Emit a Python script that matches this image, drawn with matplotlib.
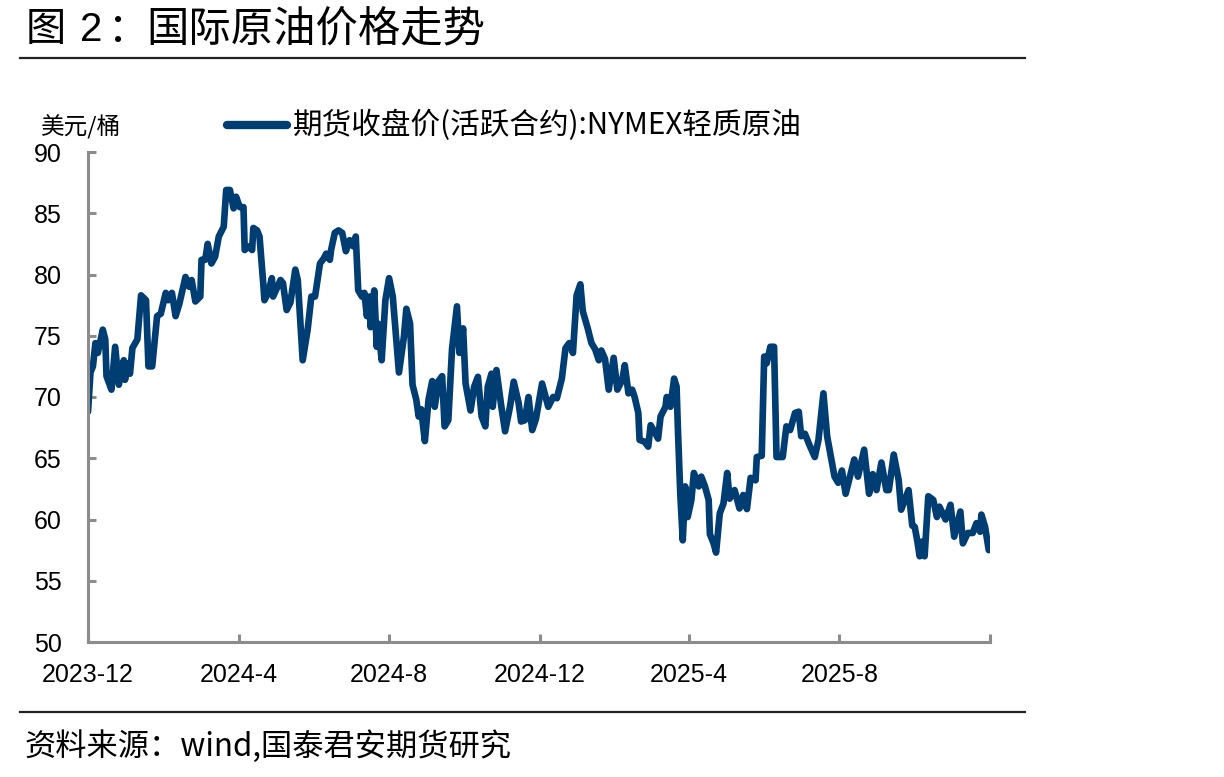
import matplotlib
matplotlib.use("Agg")
import matplotlib.pyplot as plt
import pandas as pd

plt.rcParams['font.family'] = ['Noto Sans CJK SC', 'DejaVu Sans']

title_prefix = "图 2："
title_main = "国际原油价格走势"
source = "资料来源：wind,国泰君安期货研究"
unit = "美元/桶"
series_name = "期货收盘价(活跃合约):NYMEX轻质原油"

dates = [
    "2023-12-01", "2023-12-03", "2023-12-05", "2023-12-07", "2023-12-09", "2023-12-13", "2023-12-15", "2023-12-16",
    "2023-12-20", "2023-12-23", "2023-12-26", "2023-12-30", "2023-12-31", "2024-01-02", "2024-01-04", "2024-01-06",
    "2024-01-10", "2024-01-13", "2024-01-17", "2024-01-19", "2024-01-22", "2024-01-26", "2024-01-29", "2024-02-02",
    "2024-02-04", "2024-02-07", "2024-02-10", "2024-02-13", "2024-02-18", "2024-02-21", "2024-02-23", "2024-02-26",
    "2024-03-01", "2024-03-02", "2024-03-05", "2024-03-07", "2024-03-10", "2024-03-13", "2024-03-16", "2024-03-20",
    "2024-03-22", "2024-03-25", "2024-03-28", "2024-03-30", "2024-04-02", "2024-04-05", "2024-04-06", "2024-04-09",
    "2024-04-12", "2024-04-13", "2024-04-16", "2024-04-18", "2024-04-21", "2024-04-22", "2024-04-25", "2024-04-28",
    "2024-04-29", "2024-05-05", "2024-05-07", "2024-05-10", "2024-05-13", "2024-05-17", "2024-05-19", "2024-05-23",
    "2024-05-27", "2024-05-30", "2024-06-02", "2024-06-06", "2024-06-09", "2024-06-11", "2024-06-14", "2024-06-15",
    "2024-06-18", "2024-06-21", "2024-06-24", "2024-06-27", "2024-06-30", "2024-07-03", "2024-07-05", "2024-07-07",
    "2024-07-10", "2024-07-12", "2024-07-14", "2024-07-16", "2024-07-17", "2024-07-20", "2024-07-22", "2024-07-23",
    "2024-07-26", "2024-07-29", "2024-08-01", "2024-08-04", "2024-08-06", "2024-08-09", "2024-08-13", "2024-08-15",
    "2024-08-18", "2024-08-20", "2024-08-23", "2024-08-25", "2024-08-27", "2024-08-30", "2024-09-02", "2024-09-05",
    "2024-09-07", "2024-09-10", "2024-09-13", "2024-09-15", "2024-09-18", "2024-09-21", "2024-09-25", "2024-09-27",
    "2024-09-30", "2024-10-02", "2024-10-06", "2024-10-09", "2024-10-12", "2024-10-15", "2024-10-18", "2024-10-20",
    "2024-10-23", "2024-10-24", "2024-10-27", "2024-10-31", "2024-11-03", "2024-11-07", "2024-11-10", "2024-11-14",
    "2024-11-16", "2024-11-19", "2024-11-22", "2024-11-25", "2024-11-28", "2024-12-03", "2024-12-08", "2024-12-12",
    "2024-12-15", "2024-12-19", "2024-12-22", "2024-12-25", "2024-12-28", "2024-12-31", "2025-01-03", "2025-01-05",
    "2025-01-09", "2025-01-12", "2025-01-15", "2025-01-18", "2025-01-20", "2025-01-23", "2025-01-26", "2025-01-30",
    "2025-02-02", "2025-02-06", "2025-02-08", "2025-02-11", "2025-02-14", "2025-02-16", "2025-02-19", "2025-02-20",
    "2025-02-24", "2025-02-27", "2025-03-01", "2025-03-05", "2025-03-07", "2025-03-09", "2025-03-13", "2025-03-14",
    "2025-03-17", "2025-03-20", "2025-03-22", "2025-03-23", "2025-03-25", "2025-03-27", "2025-03-29", "2025-03-31",
    "2025-04-03", "2025-04-05", "2025-04-09", "2025-04-11", "2025-04-14", "2025-04-17", "2025-04-18", "2025-04-21",
    "2025-04-23", "2025-04-26", "2025-04-29", "2025-05-02", "2025-05-04", "2025-05-08", "2025-05-12", "2025-05-15",
    "2025-05-18", "2025-05-21", "2025-05-25", "2025-05-26", "2025-05-30", "2025-06-01", "2025-06-03", "2025-06-06",
    "2025-06-09", "2025-06-11", "2025-06-16", "2025-06-19", "2025-06-22", "2025-06-26", "2025-06-29", "2025-07-01",
    "2025-07-04", "2025-07-08", "2025-07-12", "2025-07-15", "2025-07-19", "2025-07-22", "2025-07-26", "2025-07-28",
    "2025-07-31", "2025-08-03", "2025-08-06", "2025-08-10", "2025-08-13", "2025-08-16", "2025-08-21", "2025-08-25",
    "2025-08-28", "2025-08-31", "2025-09-04", "2025-09-08", "2025-09-10", "2025-09-14", "2025-09-18", "2025-09-20",
    "2025-09-23", "2025-09-26", "2025-09-29", "2025-10-01", "2025-10-03", "2025-10-05", "2025-10-07", "2025-10-09",
    "2025-10-12", "2025-10-16", "2025-10-19", "2025-10-21", "2025-10-26", "2025-10-30", "2025-11-02", "2025-11-07",
    "2025-11-09", "2025-11-13", "2025-11-17", "2025-11-20", "2025-11-23", "2025-11-24", "2025-11-27", "2025-11-30",
]

prices = [
    68.8, 72.0, 72.5, 74.4, 73.6, 75.5, 74.7, 71.7,
    70.6, 74.1, 71.0, 73.0, 71.4, 72.75, 71.9, 74.0,
    74.7, 78.3, 77.9, 72.5, 72.5, 76.6, 76.8, 78.5,
    77.9, 78.5, 76.6, 77.6, 79.8, 79.0, 79.55, 77.8,
    78.2, 81.2, 81.2, 82.5, 80.9, 81.45, 83.1, 83.9,
    86.9, 86.9, 85.4, 86.35, 85.5, 85.5, 82.0, 82.3,
    82.0, 83.8, 83.6, 83.1, 79.3, 77.9, 78.5, 79.7,
    78.2, 79.55, 79.3, 77.1, 77.7, 80.4, 79.55, 73.0,
    75.5, 78.2, 78.2, 80.9, 81.3, 81.7, 81.2, 82.0,
    83.4, 83.6, 83.4, 81.9, 82.8, 82.3, 83.1, 78.7,
    78.2, 78.5, 76.6, 78.2, 75.7, 78.7, 74.1, 76.0,
    73.0, 77.9, 79.7, 78.2, 75.7, 72.0, 74.9, 77.2,
    76.0, 71.0, 69.8, 68.4, 69.0, 66.4, 69.8, 71.3,
    69.2, 71.3, 71.7, 67.6, 68.1, 73.9, 77.4, 73.6,
    75.6, 71.1, 68.9, 70.85, 71.65, 68.4, 67.6, 70.85,
    71.9, 69.2, 72.2, 69.2, 67.2, 69.2, 71.25, 69.5,
    68.0, 68.1, 70.0, 67.3, 68.2, 71.1, 69.2, 70.0,
    69.9, 71.5, 74.0, 74.4, 73.6, 78.3, 79.2, 77.0,
    75.6, 74.4, 73.9, 73.0, 73.8, 73.1, 70.6, 73.2,
    70.6, 71.4, 72.6, 70.3, 70.6, 70.0, 68.7, 66.5,
    66.35, 65.95, 67.7, 67.0, 66.6, 68.4, 69.2, 70.0,
    69.2, 71.5, 70.85, 67.6, 62.1, 58.3, 62.7, 60.2,
    61.6, 63.8, 62.7, 63.5, 62.7, 61.6, 58.8, 58.05,
    57.3, 60.5, 61.3, 63.8, 61.7, 62.4, 60.9, 62.0,
    60.85, 63.4, 63.2, 65.1, 65.2, 73.3, 72.75, 74.1,
    74.1, 65.1, 65.1, 67.6, 67.3, 68.7, 68.8, 66.8,
    67.0, 66.0, 65.1, 66.5, 70.3, 66.8, 64.6, 63.5,
    63.0, 64.0, 62.1, 63.7, 64.9, 63.5, 65.7, 62.1,
    63.7, 62.4, 64.65, 62.4, 62.4, 65.3, 63.2, 60.8,
    61.6, 62.4, 59.5, 59.4, 58.3, 57.0, 58.2, 57.0,
    61.9, 61.6, 60.2, 61.05, 60.0, 61.2, 58.6, 60.65,
    58.05, 58.9, 58.9, 59.7, 59.0, 60.4, 59.4, 57.5,
]

tick_dates = ["2023-12-01", "2024-04-01", "2024-08-01", "2024-12-01", "2025-04-01", "2025-08-01", "2025-12-01"]
tick_labels = ["2023-12", "2024-4", "2024-8", "2024-12", "2025-4", "2025-8", ""]
y_ticks = [50, 55, 60, 65, 70, 75, 80, 85, 90]

x = pd.to_datetime(dates)
line_color = "#003D73"
axis_gray = "#8C8C8C"
W, H = 1224, 777

fig = plt.figure(figsize=(W / 100, H / 100), dpi=100)
ax = fig.add_axes([88 / W, 1 - 642 / H, (990 - 88) / W, (642 - 152) / H])

ax.plot(x, prices, color=line_color, lw=4.8, solid_joinstyle="round", solid_capstyle="round")

ax.set_xlim(pd.Timestamp(tick_dates[0]), pd.Timestamp(tick_dates[-1]))
ax.set_ylim(50, 90)
ax.set_yticks(y_ticks)
ax.set_xticks(pd.to_datetime(tick_dates))
ax.set_xticklabels(tick_labels)

for s in ["top", "right"]:
    ax.spines[s].set_visible(False)
for s in ["left", "bottom"]:
    ax.spines[s].set_color(axis_gray)
    ax.spines[s].set_linewidth(2.2)

ax.tick_params(axis="both", direction="in", length=6, width=2.2, color=axis_gray,
               labelsize=18, labelcolor="black")
ax.tick_params(axis="x", pad=15)
ax.tick_params(axis="y", pad=19)
for lab in ax.get_xticklabels() + ax.get_yticklabels():
    lab.set_family(["Liberation Sans", "DejaVu Sans"])


def px(xp, yp):
    return xp / W, 1 - yp / H


# title and rules
fig.text(*px(26, 30), "图", fontsize=29, va="center", ha="left", color="black")
fig.text(*px(80, 30), "2", fontsize=29, va="center", ha="left", color="black",
         family=["Liberation Sans", "DejaVu Sans"])
fig.text(*px(108, 30), "：", fontsize=29, va="center", ha="left", color="black")
fig.text(*px(146, 30), title_main, fontsize=30.5, va="center", ha="left", color="black")
fig.add_artist(plt.Line2D([20 / W, 1025 / W], [1 - 58 / H, 1 - 58 / H], color="#222222", lw=1.6))
fig.add_artist(plt.Line2D([20 / W, 1025 / W], [1 - 712 / H, 1 - 712 / H], color="#222222", lw=1.6))
fig.text(*px(24, 747), source, fontsize=22.5, va="center", ha="left", color="black")

# unit
fig.text(*px(41, 127), unit, fontsize=17, va="center", ha="left", color="black")

# legend
fig.add_artist(plt.Line2D([227 / W, 287 / W], [1 - 125 / H, 1 - 125 / H],
                          color=line_color, lw=6, solid_capstyle="round"))
fig.text(*px(293, 125), series_name, fontsize=21.3, va="center", ha="left", color="black")

fig.savefig("out.png", dpi=100)
